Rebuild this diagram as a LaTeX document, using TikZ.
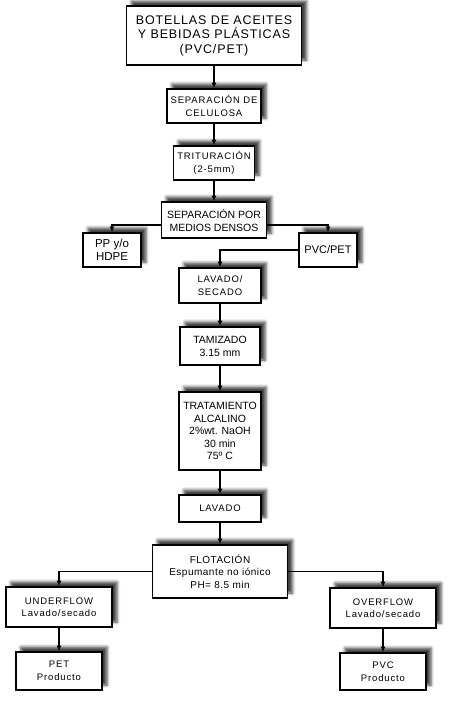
\documentclass[tikz,border=0pt]{standalone}
\usepackage{fontspec}
\setmainfont{Liberation Sans}
\usetikzlibrary{arrows.meta,shadows.blur}

\begin{document}
\begin{tikzpicture}[x=1pt,y=-1pt,
  caja/.style={rectangle,draw,line width=1.7pt,fill=white,align=center,inner sep=2pt,
    blur shadow={shadow xshift=5pt,shadow yshift=5pt,shadow blur radius=3pt,shadow opacity=75},
    font=\fontsize{10}{12.5}\selectfont},
  ancho/.style={font=\fontsize{9.5}{12.5}\selectfont\addfontfeature{LetterSpace=9}},
  flecha/.style={-{Latex[length=5.5pt,width=5pt]},line width=1.1pt}]
\useasboundingbox (0,0) rectangle (450,702);
\node [caja,minimum width=175pt,minimum height=59pt,
  font=\fontsize{12.5}{14.5}\selectfont\addfontfeature{LetterSpace=7}] (botellas) at (214,35.5)
  {BOTELLAS DE ACEITES\\Y BEBIDAS PLÁSTICAS\\(PVC/PET)};
\node [caja,ancho,minimum width=94pt,minimum height=34pt] (celulosa) at (214,106) {SEPARACIÓN DE\\CELULOSA};
\node [caja,ancho,minimum width=81pt,minimum height=34pt] (trituracion) at (214,163) {TRITURACIÓN\\(2-5mm)};
\node [caja,minimum width=105pt,minimum height=36pt,font=\fontsize{10.5}{13}\selectfont] (densos) at (214,220) {SEPARACIÓN POR\\MEDIOS DENSOS};
\node [caja,minimum width=58pt,minimum height=34pt,font=\fontsize{11.5}{13}\selectfont] (pp) at (112,250) {PP y/o\\HDPE};
\node [caja,minimum width=58pt,minimum height=34pt,font=\fontsize{11}{13}\selectfont] (pvcpet) at (328,250) {PVC/PET};
\node [caja,ancho,minimum width=82pt,minimum height=35pt] (lavsec) at (220,285.5) {LAVADO/\\SECADO};
\node [caja,minimum width=80pt,minimum height=38pt,font=\fontsize{10.5}{13}\selectfont] (tamizado) at (220,346) {TAMIZADO\\3.15 mm};
\node [caja,minimum width=82pt,minimum height=78pt,font=\fontsize{10.5}{12.5}\selectfont] (alcalino) at (220,431)
  {TRATAMIENTO\\ALCALINO\\2\%wt. NaOH\\30 min\\75º C};
\node [caja,ancho,minimum width=82pt,minimum height=27pt] (lavado) at (220,508.5) {LAVADO};
\node [caja,minimum width=135pt,minimum height=53pt,
  font=\fontsize{10}{12.5}\selectfont\addfontfeature{LetterSpace=5}] (flotacion) at (220,571.5)
  {FLOTACIÓN\\Espumante no iónico\\PH= 8.5 min};
\node [caja,ancho,minimum width=106pt,minimum height=40pt] (underflow) at (59,607) {UNDERFLOW\\Lavado/secado};
\node [caja,ancho,minimum width=86pt,minimum height=38pt] (pet) at (59,671) {PET\\Producto};
\node [caja,ancho,minimum width=106pt,minimum height=40pt] (overflow) at (383,608) {OVERFLOW\\Lavado/secado};
\node [caja,ancho,minimum width=86pt,minimum height=37pt] (pvc) at (383,671.5) {PVC\\Producto};

\draw [flecha] (botellas) -- (celulosa);
\draw [flecha] (celulosa) -- (trituracion);
\draw [flecha] (trituracion) -- (densos);
\draw [flecha] ([yshift=-5pt]densos.west) -| (pp.north);
\draw [flecha] ([yshift=-5pt]densos.east) -| (pvcpet.north);
\draw [flecha] (pvcpet.west) -| (lavsec.north);
\draw [flecha] (lavsec) -- (tamizado);
\draw [flecha] (tamizado) -- (alcalino);
\draw [flecha] (alcalino) -- (lavado);
\draw [flecha] (lavado) -- (flotacion);
\draw [flecha] (flotacion.west) -| (underflow.north);
\draw [flecha] (flotacion.east) -| (overflow.north);
\draw [flecha] (underflow) -- (pet);
\draw [flecha] (overflow) -- (pvc);
\end{tikzpicture}
\end{document}
